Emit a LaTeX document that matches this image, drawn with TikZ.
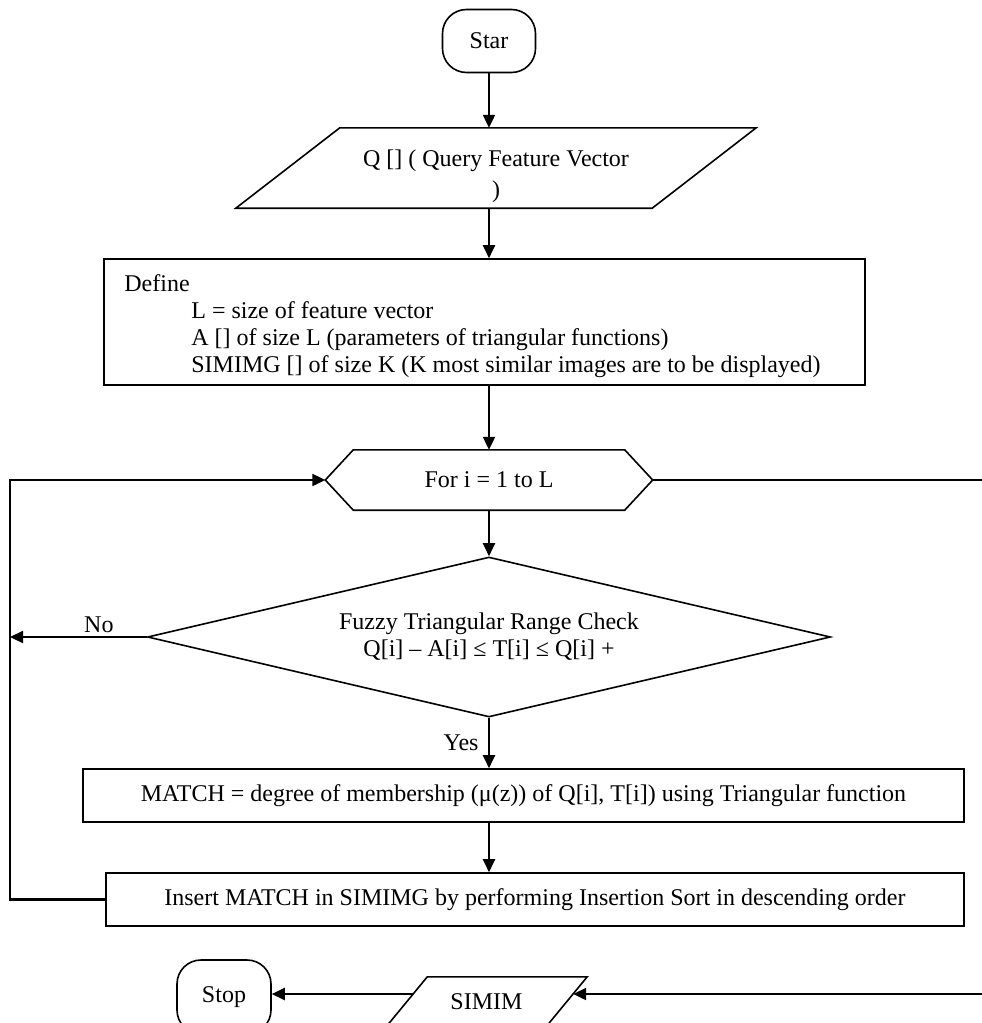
\documentclass[tikz,border=0pt]{standalone}
\usepackage{fontspec}
\setmainfont{Liberation Serif}
\usetikzlibrary{arrows.meta,shapes.geometric}

\begin{document}
\begin{tikzpicture}[x=1pt,y=-1pt,font={\fontsize{24}{27}\selectfont},
  box/.style={draw,line width=1.6pt,inner sep=0pt},
  frame/.style={inner sep=0pt},
  outline/.style={line width=1.6pt},
  flow/.style={line width=2.2pt,-{Triangle[length=13pt,width=12pt]}}]
\clip (0,0) rectangle (982,1023);
% shapes
\node[box,rounded corners=24pt,minimum width=93pt,minimum height=63pt] (start) at (489,41) {Star};
\node[frame,minimum width=520pt,minimum height=80pt] (query) at (496,168) {};
\draw[outline] ([xshift=104pt]query.north west) -- (query.north east) -- ([xshift=-104pt]query.south east) -- (query.south west) -- cycle;
\node[frame,align=center] (querytext) at ([yshift=-8pt]query.center) {Q [] ( Query Feature Vector\\[4pt])};
\node[box,minimum width=761pt,minimum height=126pt] (define) at (484.5,322) {};
\node[frame,anchor=west,align=left] (definetext) at ([xshift=21pt,yshift=-4pt]define.west) {Define\\
  \hspace*{67pt}L = size of feature vector\\
  \hspace*{67pt}A [] of size L (parameters of triangular functions)\\
  \hspace*{67pt}SIMIMG [] of size K (K most similar images are to be displayed)};
\node[frame,minimum width=327pt,minimum height=60pt] (loop) at (489,480) {For i = 1 to L};
\draw[outline] (loop.west) -- ([xshift=28pt]loop.north west) -- ([xshift=-28pt]loop.north east) -- (loop.east) -- ([xshift=-28pt]loop.south east) -- ([xshift=28pt]loop.south west) -- cycle;
\node[box,diamond,aspect=4.27,minimum width=683pt,minimum height=160pt,align=center] (check) at (489,637) {Fuzzy Triangular Range Check\\Q[i] – A[i] ≤ T[i] ≤ Q[i] +};
\node[box,minimum width=881pt,minimum height=53pt] (match) at (523.5,795.5) {MATCH = degree of membership (μ(z)) of Q[i], T[i]) using Triangular function};
\node[box,minimum width=858pt,minimum height=53pt] (insert) at (535,899.5) {Insert MATCH in SIMIMG by performing Insertion Sort in descending order};
\node[box,rounded corners=24pt,minimum width=94pt,minimum height=74pt] (stop) at (224,997) {Stop};
\node[frame,minimum width=201pt,minimum height=50pt] (result) at (486.5,1002) {SIMIM};
\draw[outline] ([xshift=41.5pt]result.north west) -- (result.north east) -- ([xshift=-41.5pt]result.south east) -- (result.south west) -- cycle;
\coordinate (lft) at (10,0);
\coordinate (rgt) at (990,0);
\coordinate (resultin) at ([xshift=-14pt,yshift=8pt]result.east);
\coordinate (resultout) at ([xshift=27pt,yshift=8pt]result.west);
% connectors
\draw[flow] (start.south) -- (start.south |- query.north);
\draw[flow] (start.south |- query.south) -- (start.south |- define.north);
\draw[flow] (define.south -| loop.north) -- (loop.north);
\draw[flow] (loop.south) -- (check.north);
\draw[flow] (check.south) -- (check.south |- match.north) node[midway,left,xshift=-6pt] {Yes};
\draw[flow] (check.south |- match.south) -- (check.south |- insert.north);
\draw[flow] (check.west) -- (check.west -| lft) node[pos=0.35,above] {No};
\draw[flow] (insert.west) -- (insert.west -| lft) -- (lft |- loop.west) -- (loop.west);
\draw[flow] (loop.east) -- (loop.east -| rgt) -- (rgt |- resultin) -- (resultin);
\draw[flow] (resultout) -- (stop.east |- resultout);
\end{tikzpicture}
\end{document}
